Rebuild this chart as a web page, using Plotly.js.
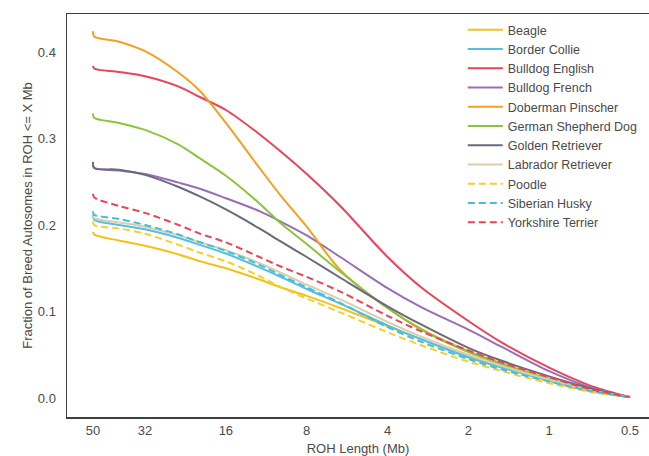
<!DOCTYPE html>
<html>
<head>
<meta charset="utf-8">
<script src="https://cdn.plot.ly/plotly-3.0.1.min.js"></script>
<style>html,body{margin:0;padding:0;background:#fff;overflow:hidden;}#chart{width:649px;height:456px;}</style>
</head>
<body>
<div id="chart"></div>
<script>
// ROH length thresholds (Mb)
const rohLength = [50, 49.5, 40, 32, 24, 20, 16, 12, 10, 8, 6, 4, 3, 2, 1.5, 1, 0.7, 0.5];

const breeds = ["Beagle", "Border Collie", "Bulldog English", "Bulldog French", "Doberman Pinscher",
  "German Shepherd Dog", "Golden Retriever", "Labrador Retriever", "Poodle", "Siberian Husky", "Yorkshire Terrier"];

const beagle        = [0.192, 0.189, 0.182, 0.176, 0.166, 0.158, 0.150, 0.137, 0.128, 0.118, 0.104, 0.083, 0.068, 0.048, 0.036, 0.020, 0.008, 0.001];
const borderCollie  = [0.212, 0.206, 0.200, 0.195, 0.185, 0.177, 0.167, 0.151, 0.140, 0.126, 0.109, 0.084, 0.068, 0.047, 0.035, 0.020, 0.008, 0.001];
const bulldogEnglish= [0.384, 0.381, 0.377, 0.372, 0.360, 0.348, 0.333, 0.305, 0.285, 0.259, 0.222, 0.163, 0.128, 0.089, 0.064, 0.035, 0.014, 0.001];
const bulldogFrench = [0.270, 0.266, 0.263, 0.259, 0.249, 0.242, 0.231, 0.216, 0.204, 0.188, 0.163, 0.127, 0.105, 0.079, 0.059, 0.031, 0.012, 0.001];
const doberman      = [0.424, 0.418, 0.412, 0.401, 0.376, 0.355, 0.318, 0.266, 0.234, 0.198, 0.148, 0.104, 0.080, 0.054, 0.040, 0.022, 0.009, 0.001];
const germanShepherd= [0.329, 0.324, 0.318, 0.310, 0.293, 0.277, 0.257, 0.225, 0.202, 0.178, 0.146, 0.104, 0.079, 0.053, 0.039, 0.022, 0.009, 0.001];
const goldenRetr    = [0.273, 0.266, 0.264, 0.258, 0.244, 0.233, 0.218, 0.196, 0.181, 0.163, 0.139, 0.106, 0.085, 0.058, 0.043, 0.025, 0.011, 0.001];
const labradorRetr  = [0.211, 0.208, 0.203, 0.198, 0.188, 0.180, 0.171, 0.156, 0.145, 0.131, 0.114, 0.088, 0.071, 0.050, 0.037, 0.021, 0.009, 0.001];
const poodle        = [0.204, 0.200, 0.196, 0.190, 0.177, 0.168, 0.158, 0.141, 0.128, 0.115, 0.099, 0.076, 0.061, 0.042, 0.031, 0.017, 0.007, 0.001];
const siberianHusky = [0.216, 0.212, 0.207, 0.200, 0.189, 0.180, 0.170, 0.154, 0.142, 0.128, 0.110, 0.082, 0.065, 0.045, 0.033, 0.019, 0.008, 0.001];
const yorkshire     = [0.236, 0.232, 0.222, 0.214, 0.200, 0.190, 0.180, 0.163, 0.152, 0.140, 0.123, 0.095, 0.077, 0.055, 0.041, 0.024, 0.010, 0.001];

const xTickVals = [50, 32, 16, 8, 4, 2, 1, 0.5];
const xTickText = ["50", "32", "16", "8", "4", "2", "1", "0.5"];
const yTickVals = [0, 0.1, 0.2, 0.3, 0.4];

const seriesValues = [beagle, borderCollie, bulldogEnglish, bulldogFrench, doberman, germanShepherd,
  goldenRetr, labradorRetr, poodle, siberianHusky, yorkshire];
const colors = ["#f2c218", "#55bde6", "#e6455a", "#9b6db4", "#f4a021", "#8cc43c",
  "#6a6a7a", "#d9cdac", "#f5cf2a", "#45bfd6", "#e6455a"];
const dashes = ["solid","solid","solid","solid","solid","solid","solid","solid","7px,4px","7px,4px","7px,4px"];

const traces = breeds.map((name, i) => ({
  type: "scatter", mode: "lines", name: name,
  x: rohLength, y: seriesValues[i],
  line: {color: colors[i], width: 2, dash: dashes[i], shape: "spline", smoothing: 0.9}
}));

const FONT = "Liberation Sans, Arial, sans-serif";
const layout = {
  width: 649, height: 456,
  margin: {l: 67, r: 0, t: 14, b: 39},
  paper_bgcolor: "#fff", plot_bgcolor: "#fff",
  font: {family: FONT, size: 13, color: "#4a4a4a"},
  showlegend: true,
  legend: {x: 0.68, y: 0.997, xanchor: "left", yanchor: "top", bgcolor: "rgba(0,0,0,0)",
    itemwidth: 35,
    font: {family: FONT, size: 12.5, color: "#4a4a4a"}, tracegroupgap: 0},
  xaxis: {
    type: "log", range: [Math.log10(50) + 26/268.5, Math.log10(0.5) - 19/268.5],
    tickvals: xTickVals, ticktext: xTickText,
    showgrid: false, zeroline: false,
    showline: true, mirror: true, linecolor: "#3f3f3f", linewidth: 1.5,
    ticks: "outside", ticklen: 1, tickcolor: "rgba(0,0,0,0)",
    tickfont: {size: 13, color: "#4a4a4a"},
    title: {text: "ROH Length (Mb)", font: {size: 13, color: "#4a4a4a"}, standoff: 7}
  },
  yaxis: {
    range: [-0.022, 0.444],
    tickvals: yTickVals, tickformat: ".1f",
    showgrid: false, zeroline: false,
    showline: true, mirror: false, linecolor: "#3f3f3f", linewidth: 1.5,
    ticks: "outside", ticklen: 7, tickcolor: "rgba(0,0,0,0)",
    tickfont: {size: 13, color: "#4a4a4a"},
    title: {text: "Fraction of Breed Autosomes in ROH <= X Mb", font: {size: 13, color: "#4a4a4a"}, standoff: 2}
  }
};

Plotly.newPlot("chart", traces, layout, {staticPlot: true, displayModeBar: false});
</script>
</body>
</html>
